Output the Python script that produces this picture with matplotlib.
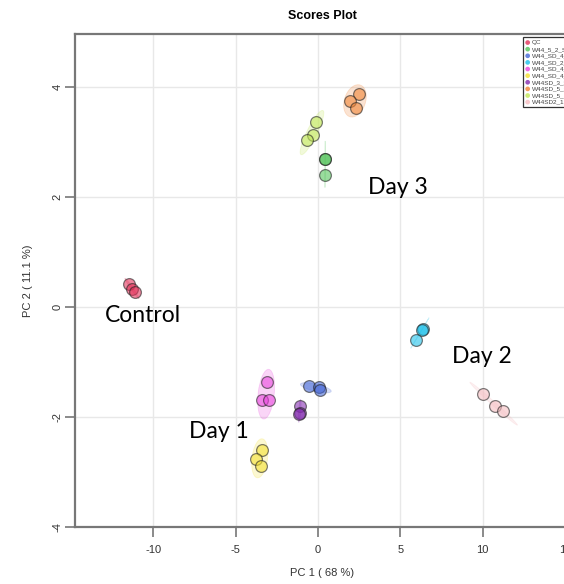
import numpy as np
import matplotlib
matplotlib.use('Agg')
import matplotlib.pyplot as plt
from matplotlib.patches import Ellipse

plt.rcParams['font.family'] = ['Liberation Sans', 'DejaVu Sans']

# --- data
groups = ['QC', 'W44_5_2_SD', 'W44_SD_4_1', 'W44_SD_2_3', 'W44_SD_4_2',
          'W44_SD_4_3', 'W44SD_3_3', 'W44SD_5_3', 'W44SD_5_1', 'W44SD2_1']
colors = ['#E23159', '#52C359', '#4668D7', '#1AC0EA', '#EA44DE',
          '#F4E030', '#842CB0', '#F18333', '#C2E858', '#F5BCC0']
pc1 = [[-11.46, -11.31, -11.11],
       [0.43, 0.44, 0.43],
       [-0.57, 0.06, 0.12],
       [6.35, 6.29, 5.93],
       [-3.08, -3.38, -2.98],
       [-3.38, -3.76, -3.46],
       [-1.09, -1.09, -1.15],
       [2.49, 1.94, 2.31],
       [-0.12, -0.28, -0.69],
       [10.04, 10.75, 11.21]]
pc2 = [[0.42, 0.33, 0.27],
       [2.70, 2.70, 2.40],
       [-1.44, -1.45, -1.51],
       [-0.39, -0.42, -0.60],
       [-1.37, -1.69, -1.69],
       [-2.60, -2.76, -2.89],
       [-1.79, -1.92, -1.95],
       [3.87, 3.76, 3.63],
       [3.36, 3.13, 3.04],
       [-1.58, -1.80, -1.89]]
notes = ['Control', 'Day 3', 'Day 2', 'Day 1']
note_x = [-12.93, 3.04, 8.14, -7.83]
note_y = [-0.15, 2.17, -0.89, -2.26]
xticks = [-10, -5, 0, 5, 10, 15]
yticks = [-4, -2, 0, 2, 4]

fig = plt.figure(figsize=(5.64, 5.84), dpi=100)
ax = fig.add_axes([75/564, 57/584, 494/564, 493/584])

k = np.sqrt(5.991)  # 95% for 2 dof
for g, c, xs, ys in zip(groups, colors, pc1, pc2):
  xs = np.array(xs); ys = np.array(ys)
  cov = np.cov(xs, ys)
  vals, vecs = np.linalg.eigh(cov)
  vals = np.clip(vals, 1e-6, None)
  ang = np.degrees(np.arctan2(vecs[1, 1], vecs[0, 1]))
  e = Ellipse((xs.mean(), ys.mean()), 2*k*np.sqrt(vals[1]), 2*k*np.sqrt(vals[0]),
              angle=ang, facecolor=c, alpha=0.22, edgecolor=c, lw=0.6, zorder=2)
  ax.add_patch(e)

for g, c, xs, ys in zip(groups, colors, pc1, pc2):
  ax.scatter(xs, ys, s=72, color=c, alpha=0.58, edgecolors='#222222',
             linewidths=0.9, zorder=3, label=g)

for t, x, y in zip(notes, note_x, note_y):
  ax.text(x, y, t, fontsize=16.5, family=['Lato', 'DejaVu Sans'], va='center', ha='left', zorder=4)

ax.set_xlim(-14.75, 15.24)
ax.set_ylim(-4, 4.97)
ax.set_xticks(xticks)
ax.set_yticks(yticks)
ax.set_xticklabels([str(v) for v in xticks])
ax.set_yticklabels([str(v) for v in yticks], rotation=90, va='center')
ax.grid(True, color='#E8E8E8', lw=1)
ax.set_axisbelow(True)
for s in ax.spines.values():
  s.set_color('#777777')
  s.set_linewidth(1.6)
ax.tick_params(direction='out', length=7, width=1.2, color='#777777',
               labelsize=8, labelcolor='#333333', pad=6)
ax.tick_params(axis='y', pad=2)

ax.set_xlabel('PC 1 ( 68 %)', fontsize=8, color='#333333', labelpad=9)
ax.set_ylabel('PC 2 ( 11.1 %)', fontsize=8, color='#333333', labelpad=14)
ax.set_title('Scores Plot', fontsize=9, fontweight='bold', pad=11)

leg = ax.legend(loc='upper left', bbox_to_anchor=((520-75)/494, 1.0), fontsize=4.6,
                markerscale=0.4, handletextpad=0.3, labelspacing=0.18,
                borderpad=0.4, handlelength=0.6, fancybox=False, framealpha=1)
leg.get_frame().set_edgecolor('#333333')
leg.get_frame().set_linewidth(0.9)
for h in leg.legend_handles:
  h.set_edgecolor('none')
  h.set_alpha(0.8)
for t in leg.get_texts():
  t.set_color('#444444')

fig.savefig('out.png', dpi=100)
